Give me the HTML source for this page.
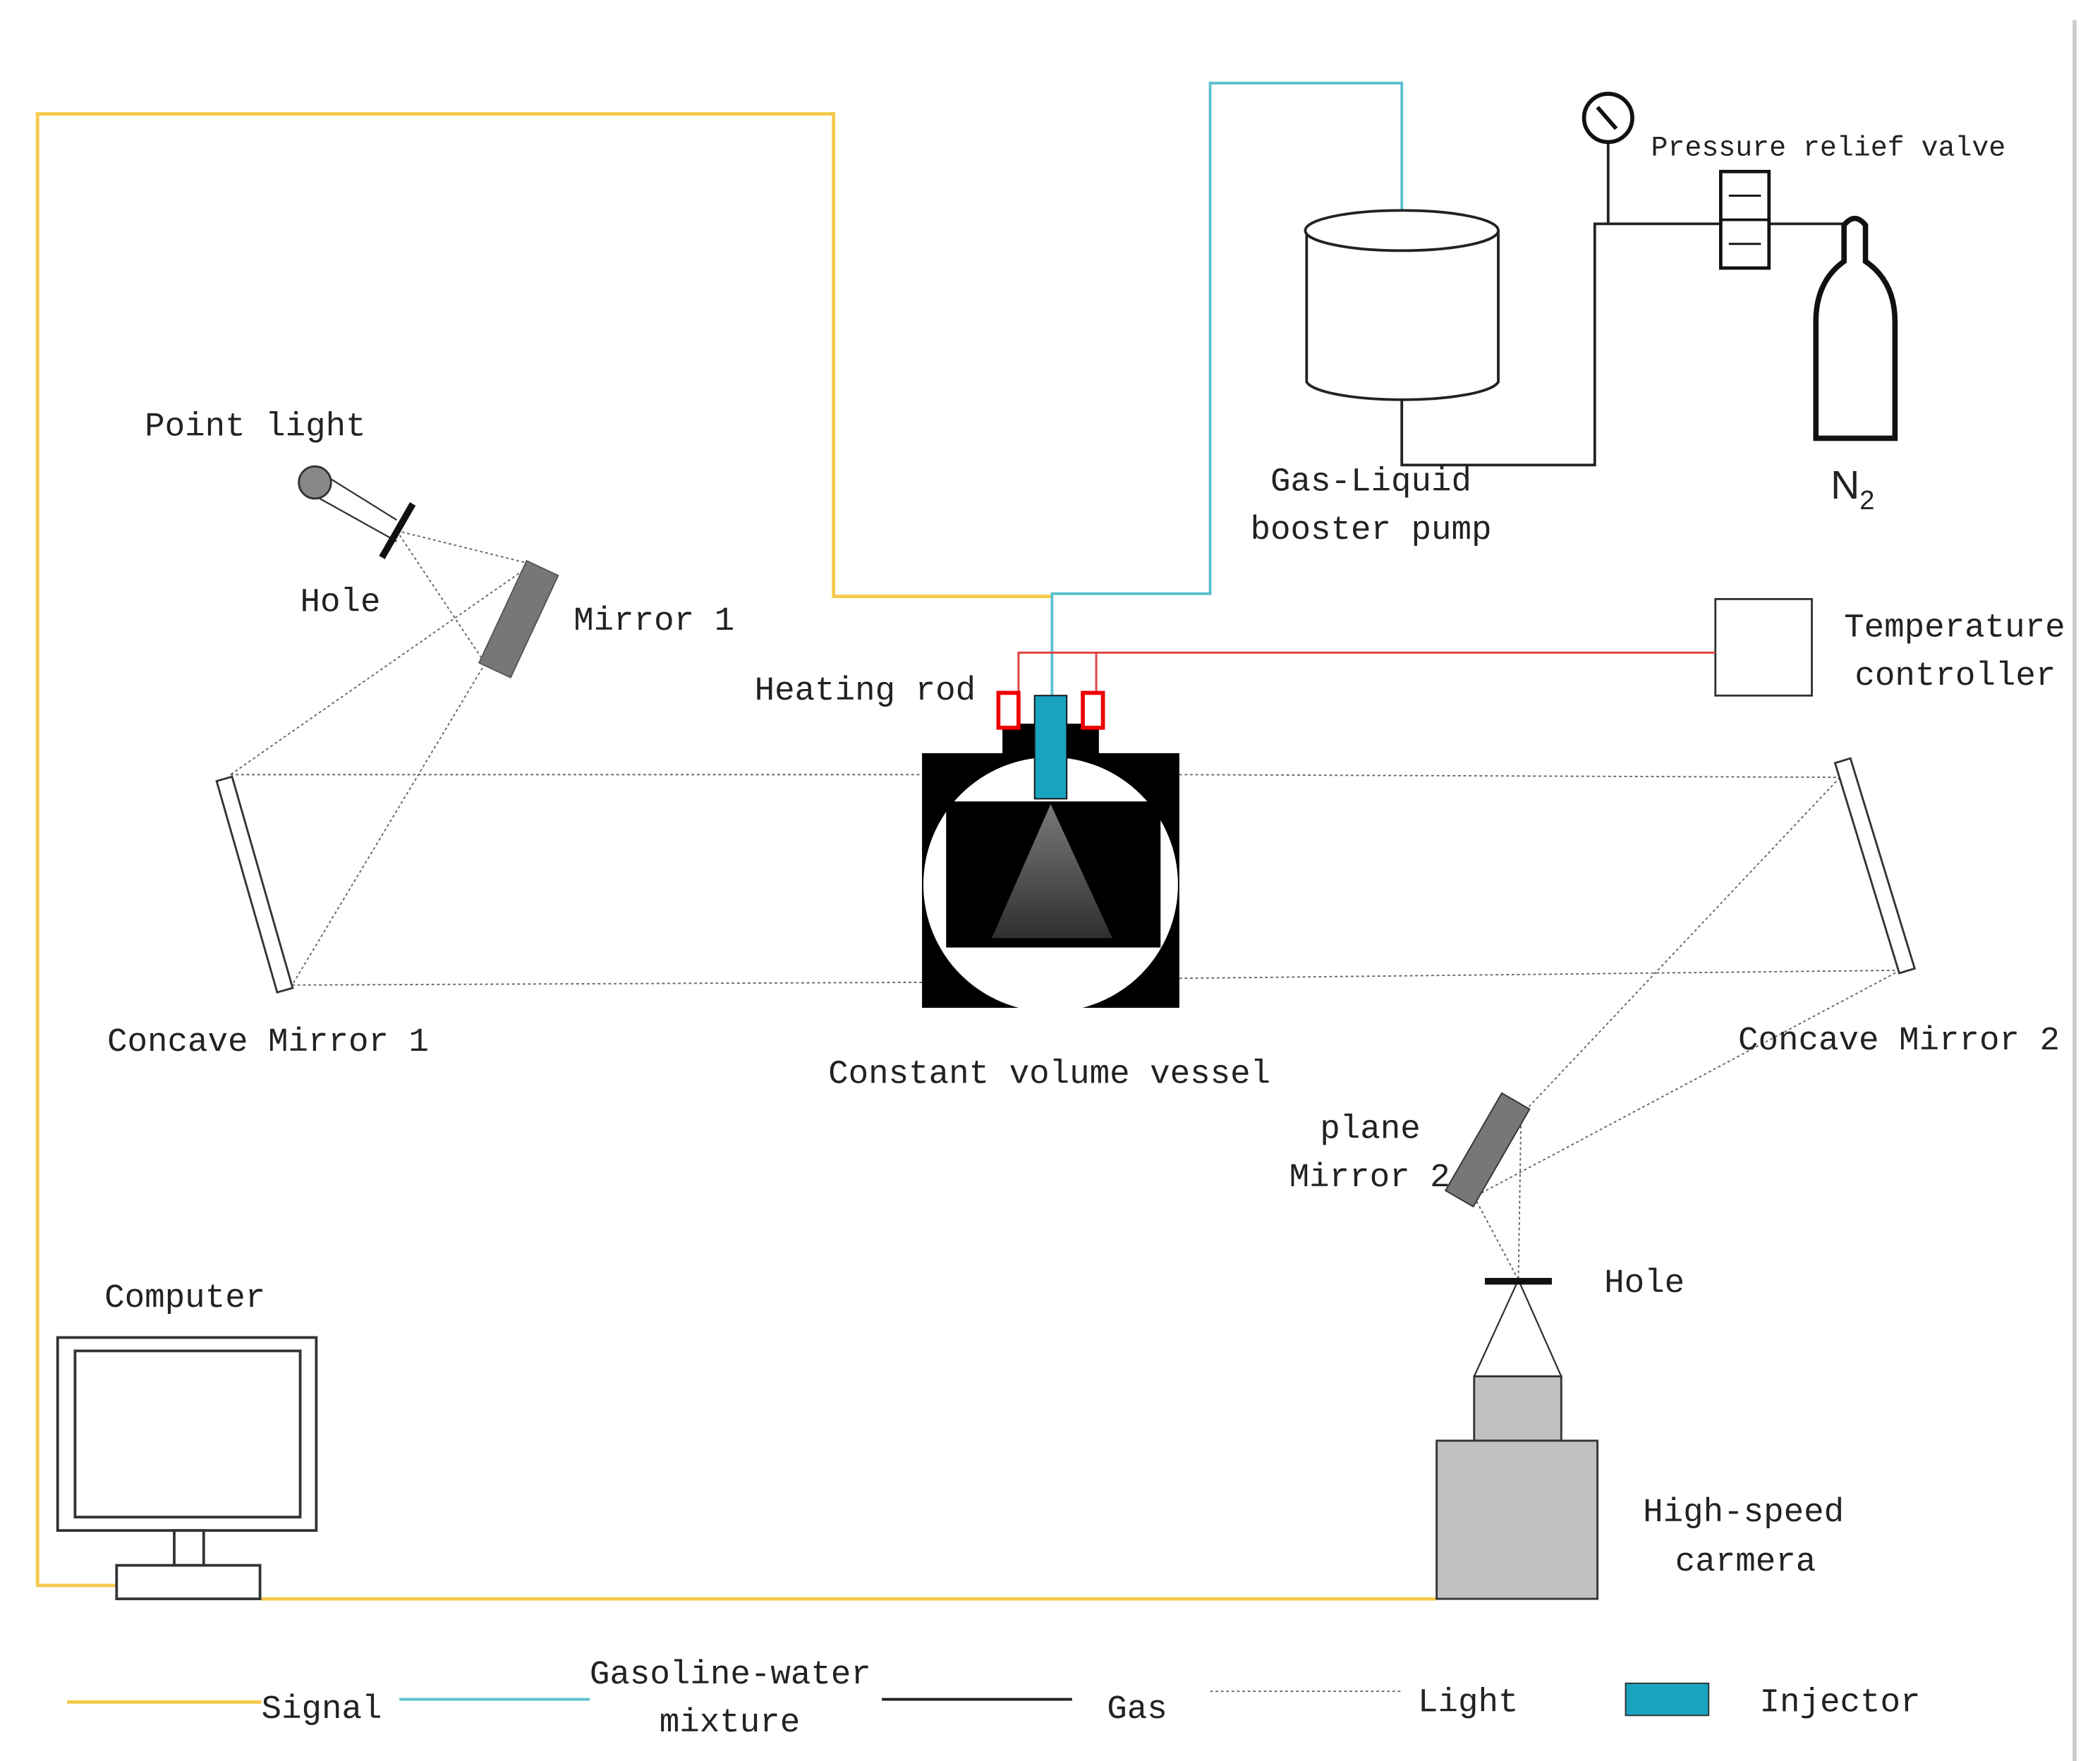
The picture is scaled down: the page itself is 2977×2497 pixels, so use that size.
<!DOCTYPE html>
<html><head><meta charset="utf-8"><style>
html,body{margin:0;padding:0;background:#fff;}
svg{display:block;}
text{font-family:"Liberation Mono","Noto Sans CJK SC",monospace;font-size:25px;fill:#222;}
</style></head><body>
<svg width="2977" height="2497" viewBox="0 0 1567 1314" preserveAspectRatio="none" xmlns="http://www.w3.org/2000/svg">
<defs>
<linearGradient id="sp" x1="0" y1="0" x2="0" y2="1"><stop offset="0" stop-color="#ddd"/><stop offset="1" stop-color="#555"/></linearGradient>
</defs>
<rect width="1567" height="1314" fill="#fff"/>
<line x1="1548" y1="15" x2="1548" y2="1314" stroke="#ccc" stroke-width="3"/>
<g fill="none" stroke="#f5c94a" stroke-width="2.5">
<polyline points="785,445 622,445 622,85 28,85 28,1183 105,1183"/>
<line x1="195" y1="1193" x2="1072" y2="1193"/>
</g>
<polyline points="785,520 785,443 903,443 903,62 1046,62 1046,157" fill="none" stroke="#5bc0d0" stroke-width="2"/>
<polyline points="1046,298 1046,347 1190,347 1190,167 1380,167" fill="none" stroke="#222" stroke-width="2"/>
<line x1="1200" y1="106" x2="1200" y2="167" stroke="#222" stroke-width="2"/>
<circle cx="1200" cy="88" r="18" fill="#fff" stroke="#111" stroke-width="3"/>
<line x1="1192" y1="80" x2="1206" y2="96" stroke="#111" stroke-width="3"/>
<text x="1232" y="116" style="font-size:21px">Pressure relief valve</text>
<rect x="1284" y="128" width="36" height="72" fill="#fff" stroke="#111" stroke-width="2.5"/>
<line x1="1284" y1="164" x2="1320" y2="164" stroke="#111" stroke-width="2"/>
<line x1="1290" y1="146" x2="1314" y2="146" stroke="#111" stroke-width="1.5"/>
<line x1="1290" y1="182" x2="1314" y2="182" stroke="#111" stroke-width="1.5"/>
<path d="M1376,195 L1376,168 Q1384,158 1392,168 L1392,195 Q1414,210 1414,240 L1414,327 L1355,327 L1355,240 Q1355,210 1376,195 Z" fill="#fff" stroke="#111" stroke-width="4"/>
<text x="1366" y="372" style="font-family:'Liberation Sans',sans-serif;font-size:30px">N<tspan style="font-size:20px" dy="8">2</tspan></text>
<path d="M975,172 L975,285 A72,15 0 0 0 1118,285 L1118,172" fill="#fff" stroke="#222" stroke-width="2"/>
<ellipse cx="1046" cy="172" rx="72" ry="15" fill="#fff" stroke="#222" stroke-width="2"/>
<text x="948" y="366">Gas-Liquid</text>
<text x="933" y="402">booster pump</text>
<rect x="1280" y="447" width="72" height="72" fill="#fff" stroke="#333" stroke-width="1.5"/>
<text x="1376" y="475">Temperature</text>
<text x="1384" y="511">controller</text>
<polyline points="760,540 760,487 1280,487" fill="none" stroke="#e04040" stroke-width="1.5"/>
<line x1="818" y1="487" x2="818" y2="540" stroke="#e04040" stroke-width="1.5"/>
<text x="563" y="522">Heating rod</text>
<rect x="688" y="562" width="192" height="190" fill="#000"/>
<rect x="748" y="540" width="72" height="24" fill="#000"/>
<circle cx="784" cy="660" r="95" fill="#fff"/>
<rect x="706" y="598" width="160" height="109" fill="#000"/>
<path d="M784,600 L740,700 L830,700 Z" fill="url(#sp)" opacity="0.55"/>
<rect x="772" y="519" width="24" height="77" fill="#1aa3bf" stroke="#111" stroke-width="1"/>
<rect x="745" y="517" width="15" height="26" fill="#fff" stroke="#e00" stroke-width="3"/>
<rect x="808" y="517" width="15" height="26" fill="#fff" stroke="#e00" stroke-width="3"/>
<text x="618" y="808">Constant volume vessel</text>
<g stroke="#666" stroke-width="1" stroke-dasharray="2,2" fill="none">
<line x1="296" y1="396" x2="397" y2="421"/>
<line x1="296" y1="396" x2="362" y2="495"/>
<line x1="397" y1="421" x2="172" y2="578"/>
<line x1="362" y1="495" x2="218" y2="735"/>
<line x1="172" y1="578" x2="688" y2="578"/>
<line x1="218" y1="735" x2="688" y2="733"/>
<line x1="880" y1="578" x2="1373" y2="580"/>
<line x1="880" y1="730" x2="1418" y2="724"/>
<line x1="1373" y1="580" x2="1135" y2="832"/>
<line x1="1418" y1="724" x2="1100" y2="893"/>
<line x1="1100" y1="893" x2="1133" y2="955"/>
<line x1="1135" y1="832" x2="1133" y2="955"/>
</g>
<g stroke="#333" stroke-width="1.2">
<line x1="1133" y1="955" x2="1100" y2="1027"/>
<line x1="1133" y1="955" x2="1165" y2="1027"/>
<line x1="235" y1="350" x2="296" y2="388"/>
<line x1="235" y1="370" x2="296" y2="404"/>
</g>
<circle cx="235" cy="360" r="12" fill="#888" stroke="#333" stroke-width="1.5"/>
<line x1="285" y1="416" x2="308" y2="376" stroke="#111" stroke-width="5"/>
<text x="108" y="325">Point light</text>
<text x="224" y="456">Hole</text>
<rect x="-13" y="-42" width="26" height="84" fill="#777" stroke="#555" transform="translate(387,462) rotate(25)"/>
<text x="428" y="470">Mirror 1</text>
<rect x="-6" y="-82" width="12" height="164" fill="#fff" stroke="#333" stroke-width="1.5" transform="translate(190,660) rotate(-16)"/>
<rect x="-6" y="-82" width="12" height="164" fill="#fff" stroke="#333" stroke-width="1.5" transform="translate(1399,646) rotate(-17)"/>
<text x="80" y="784">Concave Mirror 1</text>
<text x="1297" y="783">Concave Mirror 2</text>
<rect x="-12" y="-42" width="24" height="84" fill="#777" stroke="#333" transform="translate(1110,858) rotate(30)"/>
<text x="985" y="849">plane</text>
<text x="962" y="885">Mirror 2</text>
<line x1="1108" y1="956" x2="1158" y2="956" stroke="#111" stroke-width="5"/>
<text x="1197" y="964">Hole</text>
<rect x="1100" y="1027" width="65" height="48" fill="#c0c0c0" stroke="#333" stroke-width="1.5"/>
<rect x="1072" y="1075" width="120" height="118" fill="#c0c0c0" stroke="#333" stroke-width="1.5"/>
<text x="1226" y="1135">High-speed</text>
<text x="1250" y="1172">carmera</text>
<text x="78" y="975">Computer</text>
<rect x="43" y="998" width="193" height="144" fill="#fff" stroke="#333" stroke-width="2"/>
<rect x="56" y="1008" width="168" height="124" fill="#fff" stroke="#333" stroke-width="2"/>
<rect x="130" y="1142" width="22" height="26" fill="#fff" stroke="#333" stroke-width="2"/>
<rect x="87" y="1168" width="107" height="25" fill="#fff" stroke="#333" stroke-width="2"/>
<line x1="50" y1="1270" x2="195" y2="1270" stroke="#f5c94a" stroke-width="2.5"/>
<text x="195" y="1282">Signal</text>
<line x1="298" y1="1268" x2="440" y2="1268" stroke="#5bc0d0" stroke-width="2"/>
<text x="440" y="1256">Gasoline-water</text>
<text x="492" y="1292">mixture</text>
<line x1="658" y1="1268" x2="800" y2="1268" stroke="#222" stroke-width="2"/>
<text x="826" y="1282">Gas</text>
<line x1="903" y1="1262" x2="1045" y2="1262" stroke="#666" stroke-width="1" stroke-dasharray="2,2"/>
<text x="1058" y="1277">Light</text>
<rect x="1213" y="1256" width="62" height="24" fill="#1aa3bf" stroke="#333" stroke-width="1"/>
<text x="1313" y="1277">Injector</text>
</svg>
</body></html>
